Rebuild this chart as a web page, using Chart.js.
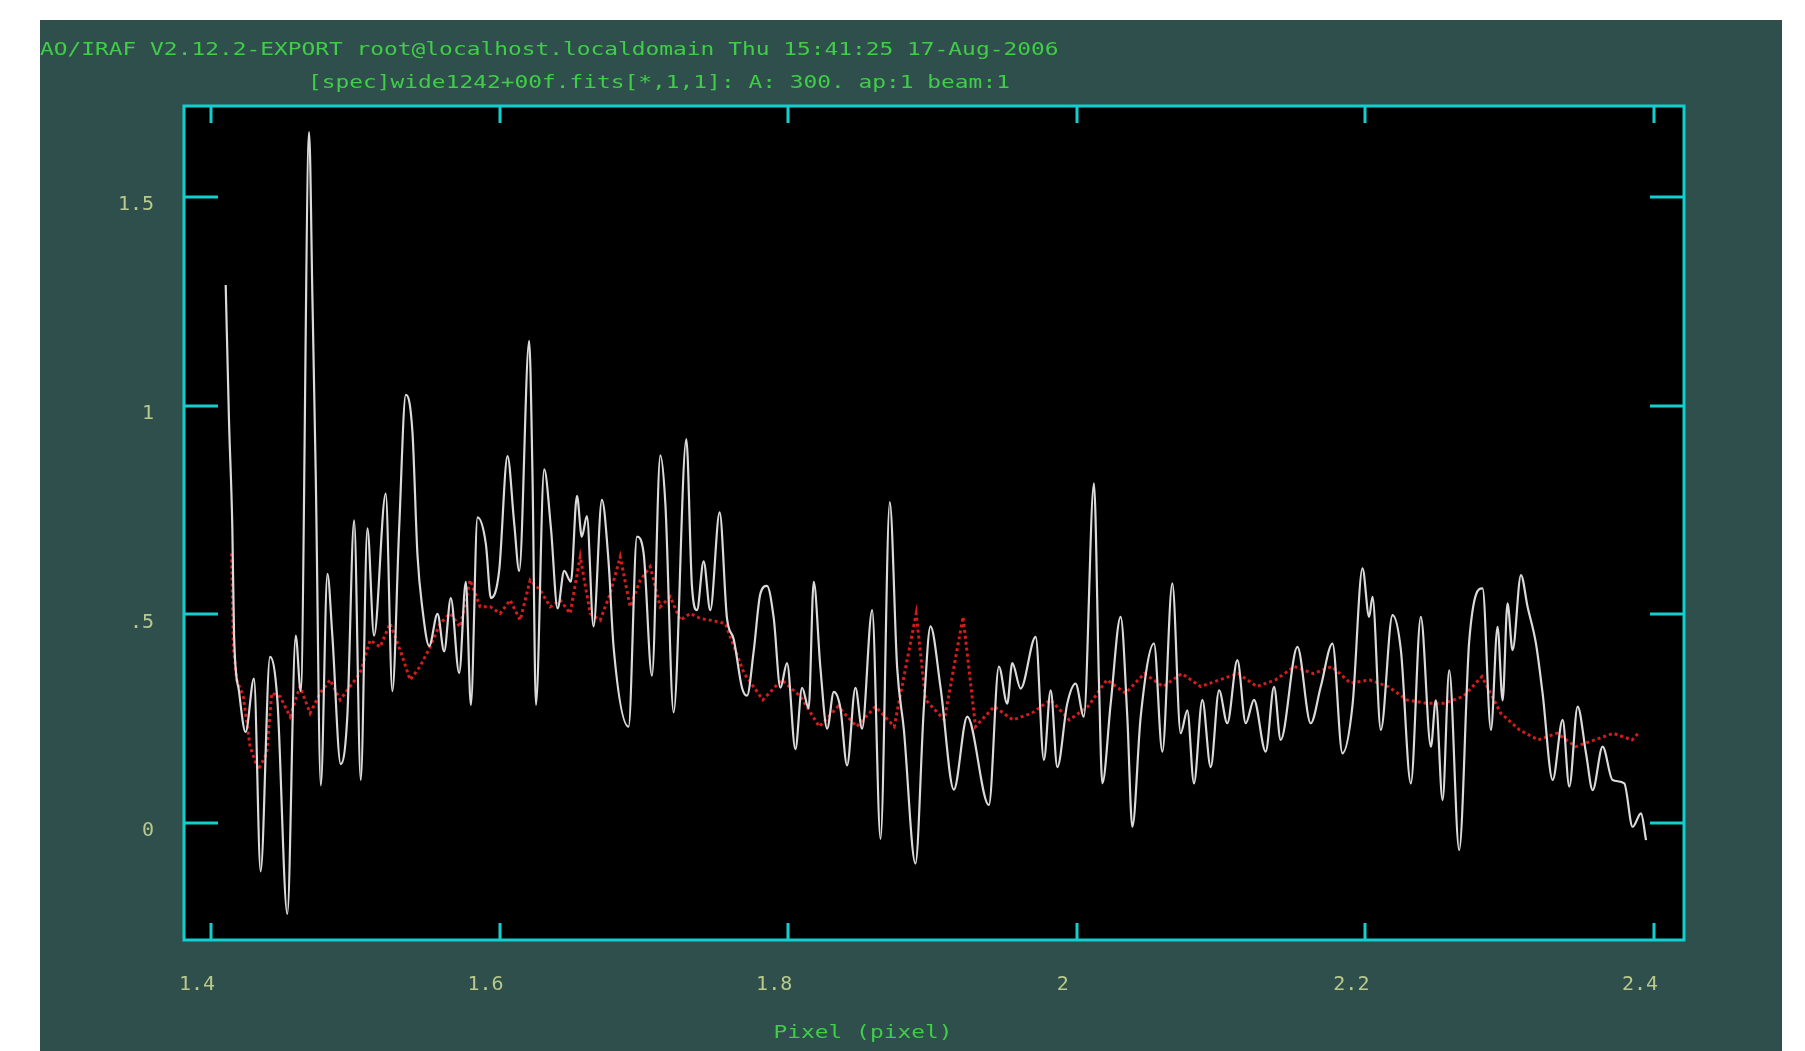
<!DOCTYPE html>
<html>
<head>
<meta charset="utf-8">
<title>Pixel (pixel)</title>
<script src="https://cdn.jsdelivr.net/npm/chart.js@4.4.0/dist/chart.umd.min.js"></script>
<style>
  html, body { margin: 0; padding: 0; background: #ffffff; }
  #panel { position: absolute; left: 40px; top: 20px; width: 1742px; height: 1031px; background: #2f4f4d; }
  #wrap { position: absolute; left: 0; top: 0; width: 1805px; height: 1051px; }
</style>
</head>
<body>
<div id="panel"></div>
<div id="wrap"><canvas id="plot" width="1805" height="1051"></canvas></div>
<script>
// Header text and axis title
const headerLine1 = 'NOAO/IRAF V2.12.2-EXPORT root@localhost.localdomain Thu 15:41:25 17-Aug-2006';
const headerLine2 = '[spec]wide1242+00f.fits[*,1,1]: A: 300. ap:1 beam:1';
const xAxisTitle = 'Pixel (pixel)';

// Axis ticks
const xTickValues = [1.4, 1.6, 1.8, 2.0, 2.2, 2.4];
const xTickLabels = ['1.4', '1.6', '1.8', '2', '2.2', '2.4'];
const yTickValues = [0, 0.5, 1, 1.5];
const yTickLabels = ['0', '.5', '1', '1.5'];
const xRange = [1.3813, 2.4208];
const yRange = [-0.2803, 1.7178];

// Extracted spectrum (solid white)
const spectrumX = [
  1.4102, 1.4125, 1.4148, 1.4160, 1.4194, 1.4240, 1.4298, 1.4344, 1.4409, 1.4460,
  1.4529, 1.4587, 1.4622, 1.4680, 1.4703, 1.4726, 1.4761, 1.4807, 1.4841, 1.4899,
  1.4945, 1.4992, 1.5038, 1.5084, 1.5130, 1.5211, 1.5257, 1.5304, 1.5350, 1.5396,
  1.5431, 1.5465, 1.5512, 1.5570, 1.5616, 1.5662, 1.5720, 1.5766, 1.5801, 1.5847,
  1.5905, 1.5940, 1.5997, 1.6055, 1.6101, 1.6136, 1.6205, 1.6228, 1.6252, 1.6309,
  1.6356, 1.6402, 1.6448, 1.6494, 1.6536, 1.6570, 1.6605, 1.6651, 1.6709, 1.6755,
  1.6790, 1.6894, 1.6952, 1.6998, 1.7056, 1.7114, 1.7149, 1.7206, 1.7294, 1.7333,
  1.7368, 1.7414, 1.7460, 1.7525, 1.7576, 1.7622, 1.7680, 1.7715, 1.7761, 1.7807,
  1.7853, 1.7900, 1.7946, 1.7992, 1.8050, 1.8096, 1.8142, 1.8177, 1.8223, 1.8270,
  1.8316, 1.8362, 1.8408, 1.8466, 1.8512, 1.8582, 1.8640, 1.8704, 1.8755, 1.8801,
  1.8882, 1.8940, 1.8986, 1.9056, 1.9148, 1.9241, 1.9391, 1.9460, 1.9518, 1.9553,
  1.9611, 1.9715, 1.9772, 1.9819, 1.9865, 1.9934, 1.9992, 2.0049, 2.0119, 2.0154,
  2.0177, 2.0235, 2.0304, 2.0350, 2.0385, 2.0443, 2.0535, 2.0593, 2.0662, 2.0720,
  2.0766, 2.0812, 2.0870, 2.0928, 2.0986, 2.1043, 2.1113, 2.1171, 2.1228, 2.1309,
  2.1367, 2.1413, 2.1529, 2.1621, 2.1691, 2.1772, 2.1841, 2.1911, 2.1980, 2.2026,
  2.2049, 2.2107, 2.2188, 2.2246, 2.2315, 2.2384, 2.2454, 2.2488, 2.2535, 2.2581,
  2.2650, 2.2720, 2.2812, 2.2870, 2.2916, 2.2951, 2.2985, 2.3020, 2.3078, 2.3124,
  2.3182, 2.3228, 2.3298, 2.3367, 2.3413, 2.3471, 2.3529, 2.3575, 2.3644, 2.3713,
  2.3794, 2.3852, 2.3910, 2.3945
];
const spectrumY = [
  1.289, 0.962, 0.706, 0.449, 0.316, 0.218, 0.346, -0.116, 0.398, 0.295,
  -0.218, 0.449, 0.316, 1.655, 1.257, 0.834, 0.090, 0.597, 0.449, 0.141,
  0.257, 0.725, 0.103, 0.706, 0.449, 0.789, 0.316, 0.706, 1.026, 0.937,
  0.642, 0.514, 0.424, 0.501, 0.411, 0.539, 0.359, 0.578, 0.283, 0.732,
  0.668, 0.539, 0.604, 0.879, 0.719, 0.604, 1.155, 0.834, 0.283, 0.847,
  0.706, 0.514, 0.604, 0.578, 0.784, 0.686, 0.735, 0.471, 0.774, 0.627,
  0.422, 0.231, 0.686, 0.647, 0.353, 0.881, 0.764, 0.265, 0.920, 0.568,
  0.510, 0.627, 0.510, 0.744, 0.490, 0.441, 0.324, 0.305, 0.412, 0.549,
  0.568, 0.490, 0.324, 0.383, 0.177, 0.324, 0.275, 0.578, 0.373, 0.226,
  0.314, 0.275, 0.138, 0.324, 0.226, 0.510, -0.038, 0.769, 0.373, 0.226,
  -0.097, 0.275, 0.471, 0.324, 0.080, 0.255, 0.043, 0.375, 0.286, 0.383,
  0.322, 0.446, 0.151, 0.318, 0.134, 0.286, 0.334, 0.255, 0.814, 0.334,
  0.095, 0.286, 0.494, 0.255, -0.009, 0.255, 0.430, 0.171, 0.574, 0.215,
  0.270, 0.095, 0.295, 0.134, 0.318, 0.239, 0.390, 0.239, 0.295, 0.171,
  0.326, 0.199, 0.422, 0.239, 0.327, 0.430, 0.167, 0.283, 0.610, 0.494,
  0.542, 0.223, 0.498, 0.414, 0.095, 0.494, 0.183, 0.294, 0.055, 0.366,
  -0.065, 0.438, 0.562, 0.223, 0.470, 0.294, 0.526, 0.414, 0.594, 0.518,
  0.430, 0.311, 0.103, 0.247, 0.087, 0.279, 0.167, 0.079, 0.183, 0.103,
  0.095, -0.009, 0.023, -0.041
];

// Comparison spectrum (red dotted)
const compareX = [
  1.4143, 1.4155, 1.4178, 1.4224, 1.4271, 1.4328, 1.4386, 1.4421, 1.4479, 1.4548,
  1.4617, 1.4687, 1.4756, 1.4825, 1.4895, 1.4964, 1.5033, 1.5103, 1.5172, 1.5241,
  1.5311, 1.5380, 1.5449, 1.5519, 1.5588, 1.5657, 1.5727, 1.5796, 1.5865, 1.5935,
  1.6004, 1.6073, 1.6143, 1.6212, 1.6281, 1.6351, 1.6420, 1.6489, 1.6559, 1.6628,
  1.6697, 1.6767, 1.6836, 1.6905, 1.6975, 1.7044, 1.7113, 1.7183, 1.7252, 1.7321,
  1.7391, 1.7460, 1.7564, 1.7695, 1.7825, 1.7955, 1.8085, 1.8215, 1.8345, 1.8475,
  1.8605, 1.8735, 1.8887, 1.8952, 1.9082, 1.9212, 1.9298, 1.9428, 1.9558, 1.9688,
  1.9818, 1.9948, 2.0078, 2.0208, 2.0338, 2.0468, 2.0598, 2.0728, 2.0858, 2.0988,
  2.1118, 2.1248, 2.1378, 2.1508, 2.1638, 2.1768, 2.1898, 2.2028, 2.2158, 2.2288,
  2.2418, 2.2548, 2.2678, 2.2808, 2.2938, 2.3068, 2.3198, 2.3328, 2.3458, 2.3588,
  2.3718, 2.3848, 2.3891
];
const compareY = [
  0.646, 0.422, 0.343, 0.303, 0.183, 0.127, 0.167, 0.311, 0.303, 0.255,
  0.327, 0.263, 0.311, 0.343, 0.295, 0.327, 0.359, 0.438, 0.422, 0.478,
  0.414, 0.343, 0.375, 0.422, 0.478, 0.502, 0.470, 0.582, 0.518, 0.518,
  0.502, 0.534, 0.486, 0.582, 0.558, 0.518, 0.534, 0.502, 0.638, 0.502,
  0.486, 0.550, 0.638, 0.518, 0.582, 0.614, 0.518, 0.542, 0.486, 0.502,
  0.490, 0.486, 0.478, 0.358, 0.295, 0.343, 0.303, 0.231, 0.279, 0.231,
  0.279, 0.231, 0.502, 0.295, 0.247, 0.494, 0.231, 0.279, 0.247, 0.263,
  0.295, 0.247, 0.279, 0.343, 0.311, 0.358, 0.327, 0.358, 0.327, 0.343,
  0.358, 0.327, 0.343, 0.375, 0.358, 0.375, 0.335, 0.343, 0.327, 0.295,
  0.287, 0.287, 0.303, 0.351, 0.263, 0.223, 0.199, 0.215, 0.183, 0.199,
  0.215, 0.199, 0.215
];

const toPoints = (xs, ys) => xs.map((x, i) => ({ x: x, y: ys[i] }));

const FRAME = '#12cfcf';
const TICK_TEXT = '#b9c98c';
const TITLE_TEXT = '#3fcf46';
const MONO = '"DejaVu Sans Mono", "Liberation Mono", monospace';

// Draws the plot box, inward tick marks and header/axis text
const irafFrame = {
  id: 'irafFrame',
  beforeDatasetsDraw(chart) {
    const { ctx, chartArea: a } = chart;
    ctx.save();
    ctx.fillStyle = '#000000';
    ctx.fillRect(a.left, a.top, a.right - a.left, a.bottom - a.top);
    ctx.restore();
  },
  afterDatasetsDraw(chart) {
    const { ctx, chartArea: a, scales } = chart;
    ctx.save();
    ctx.strokeStyle = FRAME;
    ctx.lineWidth = 3;
    ctx.strokeRect(a.left, a.top, a.right - a.left, a.bottom - a.top);
    ctx.beginPath();
    xTickValues.forEach(v => {
      const px = Math.round(scales.x.getPixelForValue(v));
      ctx.moveTo(px, a.top); ctx.lineTo(px, a.top + 17);
      ctx.moveTo(px, a.bottom); ctx.lineTo(px, a.bottom - 17);
    });
    yTickValues.forEach(v => {
      const py = Math.round(scales.y.getPixelForValue(v));
      ctx.moveTo(a.left, py); ctx.lineTo(a.left + 34, py);
      ctx.moveTo(a.right, py); ctx.lineTo(a.right - 34, py);
    });
    ctx.stroke();
    ctx.restore();
  },
  afterDraw(chart) {
    const { ctx } = chart;
    const stretch = 1.27;
    const drawWide = (text, x, y) => {
      ctx.save();
      ctx.translate(x, y);
      ctx.scale(stretch, 1);
      ctx.fillText(text, 0, 0);
      ctx.restore();
    };
    ctx.save();
    ctx.font = '18px ' + MONO;
    ctx.fillStyle = TITLE_TEXT;
    ctx.textBaseline = 'middle';
    ctx.textAlign = 'left';
    // first header line runs past the panel's left edge
    ctx.save();
    ctx.beginPath();
    ctx.rect(40, 20, 1742, 1031);
    ctx.clip();
    const charW = ctx.measureText('M').width * stretch;
    drawWide(headerLine1, 40 - 2 * charW, 50);
    ctx.restore();
    drawWide(headerLine2, 308, 83);
    const titleW = ctx.measureText(xAxisTitle).width * stretch;
    drawWide(xAxisTitle, 863 - titleW / 2, 1033);
    ctx.restore();
  }
};

new Chart(document.getElementById('plot'), {
  type: 'line',
  data: {
    datasets: [
      {
        label: 'spectrum',
        data: toPoints(spectrumX, spectrumY),
        borderColor: '#dadada',
        borderWidth: 2.2,
        pointRadius: 0,
        cubicInterpolationMode: 'monotone',
        fill: false
      },
      {
        label: 'comparison',
        data: toPoints(compareX, compareY),
        borderColor: '#d41c1c',
        borderWidth: 3,
        borderDash: [3, 3],
        pointRadius: 0,
        tension: 0,
        fill: false
      }
    ]
  },
  options: {
    responsive: false,
    devicePixelRatio: 1,
    animation: false,
    layout: { padding: { left: 40, top: 106, right: 121, bottom: 0 } },
    plugins: { legend: { display: false }, tooltip: { enabled: false }, title: { display: false } },
    scales: {
      x: {
        type: 'linear',
        position: 'bottom',
        min: xRange[0],
        max: xRange[1],
        grid: { display: false, drawTicks: false },
        border: { display: false },
        afterBuildTicks: s => { s.ticks = xTickValues.map(v => ({ value: v })); },
        afterFit: s => { s.height = 111; },
        ticks: {
          autoSkip: false,
          maxRotation: 0,
          padding: 33,
          labelOffset: -14,
          color: TICK_TEXT,
          font: { family: MONO, size: 20 },
          callback: (v, i) => xTickLabels[i]
        }
      },
      y: {
        type: 'linear',
        min: yRange[0],
        max: yRange[1],
        grid: { display: false, drawTicks: false },
        border: { display: false },
        afterBuildTicks: s => { s.ticks = yTickValues.map(v => ({ value: v })); },
        afterFit: s => { s.width = 144; },
        ticks: {
          autoSkip: false,
          padding: 30,
          labelOffset: 8,
          color: TICK_TEXT,
          font: { family: MONO, size: 20 },
          callback: (v, i) => yTickLabels[i]
        }
      }
    }
  },
  plugins: [irafFrame]
});
</script>
</body>
</html>
